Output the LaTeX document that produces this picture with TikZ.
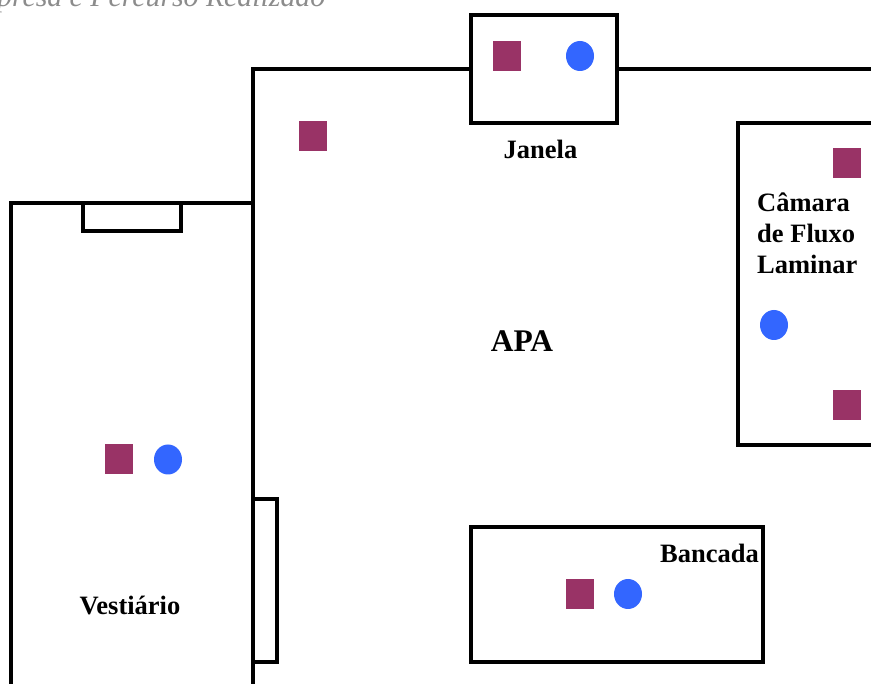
\documentclass[tikz,border=0pt]{standalone}
\usepackage{fontspec}
\setmainfont{Liberation Serif}
\usetikzlibrary{shapes.geometric}
\definecolor{sqcol}{HTML}{993366}
\definecolor{cicol}{HTML}{3366FF}
\definecolor{capcol}{HTML}{8C8C8C}
\tikzset{
  wall/.style={draw=black,line width=4pt,line join=miter},
  marksq/.style={fill=sqcol,draw=none,minimum width=28pt,minimum height=30pt,inner sep=0pt},
  markci/.style={fill=cicol,draw=none,ellipse,minimum width=28pt,minimum height=30pt,inner sep=0pt},
  lab/.style={font=\fontsize{26.5}{31}\selectfont\bfseries,inner sep=0pt,text=black,anchor=base}
}
\begin{document}
\begin{tikzpicture}[x=1pt,y=-1pt]
\path[use as bounding box] (0,0) rectangle (871,684);
\clip (0,0) rectangle (871,684);
\fill[white] (0,0) rectangle (871,684);
% caption cut by the top edge
\node[anchor=base west,inner sep=0pt,text=capcol,font=\fontsize{29.8}{32}\selectfont\itshape] (cap) at (-3,6.5) {presa e Percurso Realizado};
% walls
\draw[wall] (252.5,690) -- (252.5,69.5) -- (471,69.5);
\draw[wall] (617,69.5) -- (880,69.5);
\draw[wall] (11,690) -- (11,203.5) -- (252.5,203.5);
\draw[wall] (83,203.5) -- (83,231) -- (181,231) -- (181,203.5);
\draw[wall] (252.5,499.5) -- (277,499.5) -- (277,662) -- (252.5,662);
\draw[wall] (471,15.5) rectangle (617,123);
\draw[wall] (880,123.5) -- (738,123.5) -- (738,445.5) -- (880,445.5);
\draw[wall] (471,527.5) rectangle (763,661.5);
% markers
\node[marksq] (s1) at (313,136.5) {};
\node[marksq] (s2) at (507,56) {};
\node[markci] (c1) at (580,56) {};
\node[marksq] (s3) at (847,163.5) {};
\node[markci] (c2) at (774,325) {};
\node[marksq] (s4) at (847,405.5) {};
\node[marksq] (s5) at (119,459.5) {};
\node[markci] (c3) at (168,459.5) {};
\node[marksq] (s6) at (580,594) {};
\node[markci] (c4) at (628,594) {};
% labels
\node[lab] (janela) at (540.5,158.5) {Janela};
\node[lab,anchor=base west] (cam1) at (757,211.5) {Câmara};
\node[lab,anchor=base west] (cam2) at (757,242.5) {de Fluxo};
\node[lab,anchor=base west] (cam3) at (757,273.5) {Laminar};
\node[lab,font=\fontsize{31.5}{36}\selectfont\bfseries] (apa) at (522,351.5) {APA};
\node[lab,anchor=base west] (banc) at (660,562.5) {Bancada};
\node[lab] (vest) at (130,614.5) {Vestiário};
\end{tikzpicture}
\end{document}
